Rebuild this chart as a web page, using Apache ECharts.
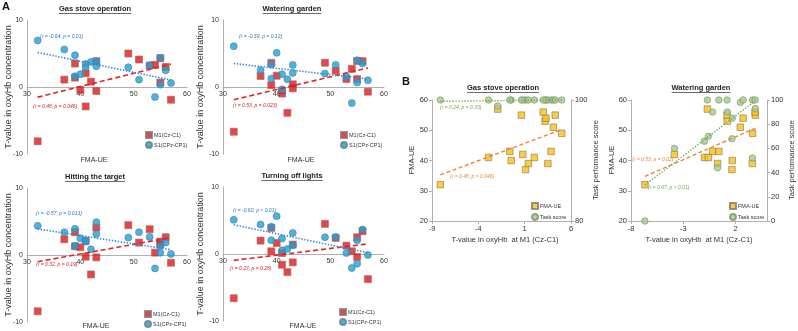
<!DOCTYPE html>
<html><head><meta charset="utf-8">
<script src="https://cdn.jsdelivr.net/npm/echarts@6/dist/echarts.min.js"></script>
<style>html,body{margin:0;padding:0;background:#fff}#c{width:798px;height:331px}</style>
</head><body><div id="c"></div>
<script>
// ---- data (per patient, ordered by FMA-UE) ----
const fma = [32,37,39,39,40,41,41,42,43,43,49,51,53,54,55,55,56,57];
const gasM1 = [-8.1,1.1,1.4,3.5,-0.45,2.05,-2.9,0.8,-0.6,3.85,5.0,4.1,3.2,3.3,0.65,4.3,3.0,-1.9];
const gasS1 = [6.95,5.6,4.75,1.6,1.9,3.45,2.95,3.75,3.85,3.1,2.95,1.1,3.25,-1.5,4.35,0.35,2.5,0.6];
const waterM1 = [-6.67,1.65,3.6,0.27,1.68,-0.98,-0.6,-3.85,-0.2,0.4,3.62,2.45,1.2,2.72,1.18,3.88,3.86,-0.7];
const waterS1 = [6.1,2.5,3.35,1.25,5.1,-0.35,1.9,1.15,3.3,2.1,2.0,3.3,1.6,-2.4,4.0,0.66,3.5,1.0];
const hitM1 = [-8.4,2.35,3.4,1.3,1.15,2.1,-0.25,-2.9,4.1,-0.35,4.45,1.85,3.85,0.35,2.0,1.6,2.65,-1.15];
const hitS1 = [4.35,3.4,3.9,1.35,2.5,2.2,2.0,0.85,4.9,3.15,2.6,3.4,2.7,-2.0,1.35,0.35,1.85,0.15];
const turnM1 = [-6.6,2.0,3.9,0.4,1.65,-1.6,0.15,-2.7,1.4,-1.25,4.5,2.4,1.25,0.4,-0.45,2.5,3.4,-3.75];
const turnS1 = [5.1,4.4,4.05,2.05,5.65,2.3,0.55,0.75,3.15,1.3,2.5,2.55,0.15,-2.1,2.05,-1.45,3.65,-0.15];
const gasTask = [100,100,100,100,100,100,100,100,100,100,100,100,100,100,100,100,100,99];
const waterTask = [0,68,52,44,85,66,70,60,90,100,100,98,90,100,100,93,100,100];

const titlesA = ['Gas stove operation','Watering garden','Hitting the target','Turning off lights'];
const titlesB = ['Gas stove operation','Watering garden'];
const statsA_S1 = ['(r = -0.64, p = 0.01)','(r = -0.39, p = 0.12)','(r = -0.57, p = 0.013)','(r = -0.60, p < 0.01)'];
const statsA_M1 = ['(r = 0.48, p = 0.046)','(r = 0.53, p = 0.023)','(r = 0.32, p = 0.19)','(r = 0.27, p = 0.28)'];
const statsB_FMA = ['(r = 0.48, p = 0.046)','(r = 0.53, p = 0.02)'];
const statsB_Task = ['(r = 0.24, p = 0.33)','(r = 0.67, p < 0.01)'];
const xTicksBgas = [-9,-4,1,6];
const xTicksBwater = [-8,-3,2];

// ---- helpers ----
const FONT = '"Liberation Sans", Arial, sans-serif';
const pts = (xs, ys) => xs.map((x,i)=>[x, ys[i]]);
function fit(xs, ys){
  const n = xs.length;
  const mx = xs.reduce((a,b)=>a+b,0)/n, my = ys.reduce((a,b)=>a+b,0)/n;
  let sxy=0, sxx=0;
  for(let i=0;i<n;i++){ sxy+=(xs[i]-mx)*(ys[i]-my); sxx+=(xs[i]-mx)*(xs[i]-mx); }
  const b = sxy/sxx, a = my - b*mx;
  const x0 = Math.min(...xs), x1 = Math.max(...xs);
  return [[x0, a+b*x0],[x1, a+b*x1]];
}
const ctx = document.createElement('canvas').getContext('2d');
function tw(str, font){ ctx.font = font; return ctx.measureText(str).width; }

const RED='#F01010', BLUE='#16A2E2', RED_T='#E02424', BLUE_T='#2F86DA', BLUE_TXT='#2E75B6';
const ORANGE='#FFC000', GREEN='#A3CD85', ORANGE_T='#F0843A', GREEN_T='#6FAE45';
const AX='#b0b0b0', TXT='#333';

// ---- layout ----
const gridsA = [
  {left:27, top:20, width:160, height:134},
  {left:223, top:20, width:161, height:134},
  {left:27, top:188, width:160, height:134},
  {left:223, top:187, width:161, height:134}
];
const gridsB = [
  {left:432, top:100, width:139, height:121},
  {left:631, top:100, width:136, height:121}
];
const grid = gridsA.concat(gridsB);

const xAxis = [], yAxis = [], series = [];
gridsA.forEach((g,k)=>{
  xAxis.push({gridIndex:k, type:'value', min:30, max:60, interval:10,
    axisLine:{onZero:true, lineStyle:{color:AX, width:1}}, axisTick:{show:false}, splitLine:{show:false},
    axisLabel:{fontSize:7, color:TXT, margin:-(g.height/2 - 3.5), fontFamily:FONT}});
  yAxis.push({gridIndex:k, type:'value', min:-10, max:10, interval:10,
    axisLine:{show:true, onZero:false, lineStyle:{color:AX, width:1}}, axisTick:{show:false}, splitLine:{show:false},
    axisLabel:{fontSize:7, color:TXT, margin:4, fontFamily:FONT}});
});
// B axes
const bX = [{min:-9,max:6,ticks:xTicksBgas},{min:-8,max:5,ticks:xTicksBwater}];
const bR = [{min:80,max:100,interval:20},{min:0,max:100,interval:20}];
gridsB.forEach((g,j)=>{
  const k = 4+j;
  const tk = bX[j].ticks;
  xAxis.push({gridIndex:k, type:'value', min:bX[j].min, max:bX[j].max, interval:5,
    axisLine:{onZero:false, lineStyle:{color:AX}}, axisTick:{show:true, length:3, lineStyle:{color:AX}}, splitLine:{show:false},
    axisLabel:{fontSize:7.5, color:TXT, margin:4, fontFamily:FONT, showMaxLabel: tk.indexOf(bX[j].max)>=0,
      formatter:v=> tk.indexOf(v)>=0 ? String(v) : ''}});
  yAxis.push({gridIndex:k, type:'value', position:'left', min:20, max:60, interval:10,
    axisLine:{show:true, onZero:false, lineStyle:{color:AX}}, axisTick:{show:true, length:3, lineStyle:{color:AX}}, splitLine:{show:false},
    axisLabel:{fontSize:7.5, color:TXT, margin:4, fontFamily:FONT}});
  yAxis.push({gridIndex:k, type:'value', position:'right', min:bR[j].min, max:bR[j].max, interval:bR[j].interval,
    axisLine:{show:true, onZero:false, lineStyle:{color:AX}}, axisTick:{show:true, length:3, lineStyle:{color:AX}}, splitLine:{show:false},
    axisLabel:{fontSize:7.5, color:TXT, margin:4, fontFamily:FONT}});
});

const panelsA = [[gasM1,gasS1],[waterM1,waterS1],[hitM1,hitS1],[turnM1,turnS1]];
panelsA.forEach((p,k)=>{
  series.push({type:'scatter', name:'M1(Cz-C1)', xAxisIndex:k, yAxisIndex:k, symbol:'rect', symbolSize:7,
    itemStyle:{color:RED, borderColor:'#7a7a7a', borderWidth:0.8}, data:pts(fma,p[0]), z:3});
  series.push({type:'scatter', name:'S1(CPz-CP1)', xAxisIndex:k, yAxisIndex:k, symbol:'circle', symbolSize:7,
    itemStyle:{color:BLUE, borderColor:'#6a7a86', borderWidth:0.8}, data:pts(fma,p[1]), z:4});
  series.push({type:'line', name:'M1 trend', xAxisIndex:k, yAxisIndex:k, symbol:'none', silent:true,
    lineStyle:{color:RED_T, width:1.6, type:[5,3]}, data:fit(fma,p[0]), z:5});
  series.push({type:'line', name:'S1 trend', xAxisIndex:k, yAxisIndex:k, symbol:'none', silent:true,
    lineStyle:{color:BLUE_T, width:1.6, type:[1.4,1.6]}, data:fit(fma,p[1]), z:5});
});
const panelsB = [[gasM1,gasTask],[waterM1,waterTask]];
panelsB.forEach((p,j)=>{
  const k = 4+j, yl = 4+2*j, yr = 5+2*j;
  series.push({type:'scatter', name:'FMA-UE', xAxisIndex:k, yAxisIndex:yl, symbol:'rect', symbolSize:6.5,
    itemStyle:{color:ORANGE, borderColor:'#7a7a7a', borderWidth:0.8}, data:pts(p[0],fma), z:3});
  series.push({type:'scatter', name:'Task score', xAxisIndex:k, yAxisIndex:yr, symbol:'circle', symbolSize:6.5,
    itemStyle:{color:GREEN, borderColor:'#7f8f78', borderWidth:0.8}, data:pts(p[0],p[1]), z:4});
  series.push({type:'line', name:'FMA trend', xAxisIndex:k, yAxisIndex:yl, symbol:'none', silent:true,
    lineStyle:{color:ORANGE_T, width:1.4, type:[4,2.5]}, data:fit(p[0],fma), z:5});
  series.push({type:'line', name:'Task trend', xAxisIndex:k, yAxisIndex:yr, symbol:'none', silent:true,
    lineStyle:{color:GREEN_T, width:1.4, type:[1.4,1.6]}, data:fit(p[0],p[1]), z:5});
});

// legends
function legA(left, top){
  return {left, top, orient:'vertical', itemWidth:6, itemHeight:6, itemGap:2, padding:0, selectedMode:false,
    textStyle:{fontSize:5.5, color:TXT, fontFamily:FONT, padding:[0,0,0,-3]},
    data:[{name:'M1(Cz-C1)', icon:'rect'},{name:'S1(CPz-CP1)', icon:'circle'}]};
}
function legB(left, top){
  return {left, top, orient:'vertical', itemWidth:6, itemHeight:6, itemGap:3, padding:0, selectedMode:false,
    textStyle:{fontSize:5.5, color:TXT, fontFamily:FONT, padding:[0,0,0,-3]},
    data:[{name:'FMA-UE', icon:'rect'},{name:'Task score', icon:'circle'}]};
}
const legend = [legA(145,131), legA(340,131), legA(144,310), legA(339,308), legB(531,202), legB(729,202)];

// graphic texts
const g = [];
function txt(x,y,str,font,fill,rot,align){
  g.push({type:'text', x, y, rotation:rot||0, silent:true,
    style:{text:str, font, fill, align:align||'center', verticalAlign:'middle', textAlign:align||'center', textVerticalAlign:'middle'}});
}
function title(cx, cy, str){
  const f = 'bold 7.5px ' + FONT;
  txt(cx, cy, str, f, '#222');
  const w = tw(str, f);
  g.push({type:'line', silent:true, shape:{x1:cx-w/2, y1:cy+4.5, x2:cx+w/2, y2:cy+4.5}, style:{stroke:'#444', lineWidth:0.8}});
}
const tA = [[95,9],[292,9],[95,177],[292,176]];
titlesA.forEach((s,i)=>title(tA[i][0], tA[i][1], s));
title(503, 88, titlesB[0]); title(701, 88, titlesB[1]);

const yNameA = 'T-value in oxyHb concentration';
[[9,87],[201,87],[9,255],[201,254]].forEach(p=>txt(p[0],p[1],yNameA,'9px '+FONT,TXT,Math.PI/2));
[[94,160],[301,160],[96,326],[303,326]].forEach(p=>txt(p[0],p[1],'FMA-UE','7px '+FONT,TXT));
const annS = [[40,37],[239,37],[36,214],[233,211]];
const annM = [[33,107],[233,106],[36,265],[230,269]];
const fAnn = 'italic 5px ' + FONT;
statsA_S1.forEach((s,i)=>txt(annS[i][0],annS[i][1],s,fAnn,BLUE_TXT,0,'left'));
statsA_M1.forEach((s,i)=>txt(annM[i][0],annM[i][1],s,fAnn,'#D42020',0,'left'));
txt(440,108,statsB_Task[0],fAnn,GREEN_T,0,'left');
txt(450,177,statsB_FMA[0],fAnn,ORANGE_T,0,'left');
txt(632,160,statsB_FMA[1],fAnn,ORANGE_T,0,'left');
txt(648,188,statsB_Task[1],fAnn,GREEN_T,0,'left');

const fB = '7.5px ' + FONT;
txt(412,160,'FMA-UE',fB,TXT,Math.PI/2);
txt(612,160,'FMA-UE',fB,TXT,Math.PI/2);
txt(596,160,'Task performance score',fB,TXT,Math.PI/2);
txt(792,160,'Task performance score',fB,TXT,Math.PI/2);
txt(505,240,'T-value in oxyHb  at M1 (Cz-C1)',fB,TXT);
txt(699,240,'T-value in oxyHb  at M1 (Cz-C1)',fB,TXT);
txt(6,7,'A','bold 11px '+FONT,'#111');
txt(406,82,'B','bold 11px '+FONT,'#111');

const chart = echarts.init(document.getElementById('c'), null, {renderer:'canvas'});
chart.setOption({animation:false, backgroundColor:'#fff', grid, xAxis, yAxis, series, legend, graphic:{elements:g}});
</script>
</body></html>
